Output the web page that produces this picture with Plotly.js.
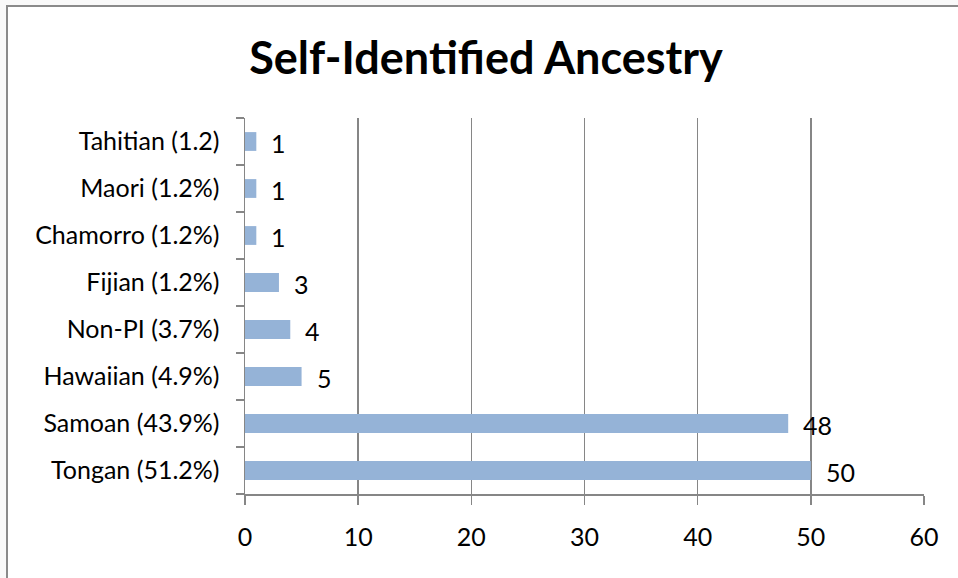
<!DOCTYPE html>
<html>
<head>
<meta charset="utf-8">
<script src="https://cdn.plot.ly/plotly-3.0.1.min.js"></script>
<style>html,body{margin:0;padding:0;background:#fff;}#chart{width:958px;height:578px;}</style>
</head>
<body>
<div id="chart"></div>
<script>
// Data (bottom to top)
const categories = ["Tongan (51.2%)", "Samoan (43.9%)", "Hawaiian (4.9%)", "Non-PI (3.7%)",
                    "Fijian (1.2%)", "Chamorro (1.2%)", "Maori (1.2%)", "Tahitian (1.2)"];
const counts = [50, 48, 5, 4, 3, 1, 1, 1];
const xTicks = [0, 10, 20, 30, 40, 50, 60];

const FONT = "Lato, 'Open Sans', sans-serif";
const W = 958, H = 578;
const L = 245, R = 924, T = 118, B = 494;

const trace = {
  type: "bar",
  orientation: "h",
  x: counts,
  y: categories,
  marker: {color: "#95B3D7", line: {width: 0}},
  hoverinfo: "skip"
};

const annotations = counts.map((v, i) => ({
  x: v, y: categories[i], xref: "x", yref: "y",
  text: String(v), showarrow: false,
  xanchor: "left", yanchor: "middle", xshift: 13, yshift: -1,
  font: {family: FONT, size: 25, color: "#000"}
}));

const pw = R - L, ph = B - T;
const layout = {
  width: W, height: H,
  margin: {l: L, r: W - R, t: T, b: H - B, pad: 0},
  paper_bgcolor: "#f9f9f9",
  plot_bgcolor: "#ffffff",
  showlegend: false,
  bargap: 0.6,
  title: {
    text: "<b>Self-Identified Ancestry</b>",
    font: {family: FONT, size: 45, color: "#000"},
    x: 486 / W, xanchor: "center", xref: "container",
    y: 1 - 58 / H, yanchor: "middle", yref: "container"
  },
  xaxis: {
    range: [0, 60], tickvals: xTicks, ticktext: xTicks.map(String),
    showgrid: true, gridcolor: "#868686", gridwidth: 1.5,
    showline: true, linecolor: "#868686", linewidth: 1.5,
    ticks: "outside", ticklen: 9, tickcolor: "#868686", tickwidth: 1.5,
    ticklabelstandoff: 11,
    zeroline: false,
    tickfont: {family: FONT, size: 25, color: "#000"},
    fixedrange: true
  },
  yaxis: {
    type: "category", categoryorder: "array", categoryarray: categories,
    range: [-0.5, 7.5],
    showgrid: false, zeroline: false,
    showline: true, linecolor: "#868686", linewidth: 1.5,
    ticks: "outside", ticklen: 8, tickcolor: "#868686", tickwidth: 1.5,
    tickson: "boundaries",
    ticklabelstandoff: 19,
    tickfont: {family: FONT, size: 25, color: "#000"},
    fixedrange: true
  },
  shapes: [{
    type: "rect", xref: "paper", yref: "paper", layer: "below",
    x0: (7 - L) / pw, x1: (W + 20 - L) / pw,
    y0: (B - (H + 20)) / ph, y1: (B - 6) / ph,
    line: {color: "#8a8a8a", width: 2}, fillcolor: "#ffffff"
  }],
  annotations: annotations
};

Plotly.newPlot("chart", [trace], layout, {displayModeBar: false, staticPlot: true});
</script>
</body>
</html>
